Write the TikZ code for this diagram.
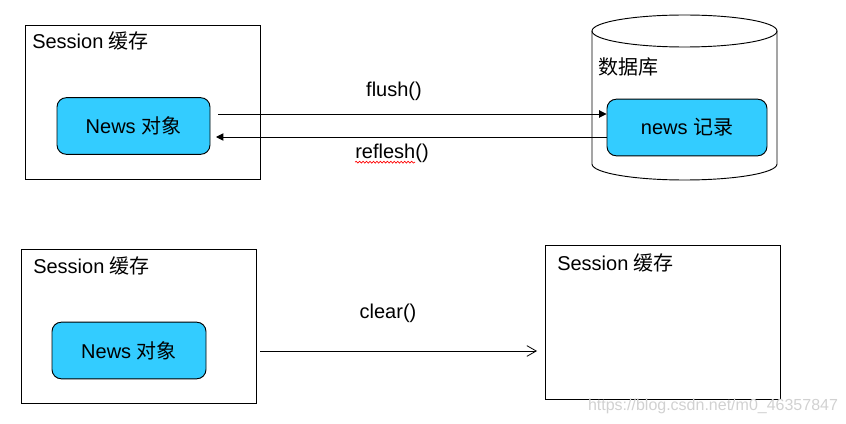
\documentclass[tikz,border=0pt]{standalone}
\usepackage{fontspec}
\setmainfont{Liberation Sans}
\newfontfamily\cjk{Noto Sans CJK SC}
\usepackage{tikz}
\usetikzlibrary{calc,arrows.meta,decorations.pathmorphing}
\definecolor{skyfill}{HTML}{33CCFF}

\begin{document}
\begin{tikzpicture}[x=0.75pt, y=-0.75pt,
  sessbox/.style = {draw, line width=0.7pt, minimum width=176.25pt, minimum height=115.5pt, inner sep=0pt},
  objbox/.style = {draw, line width=0.7pt, fill=skyfill, rounded corners=7pt, minimum height=42.5pt, inner sep=0pt, font=\fontsize{15}{18}\selectfont},
  lbl/.style = {inner sep=0pt, font=\fontsize{15}{18}\selectfont},
  flow/.style = {line width=0.7pt, -{Triangle[length=5.5pt,width=5.5pt]}},
  clearflow/.style = {line width=0.6pt, -{Straight Barb[length=7pt,width=8pt,line width=0.6pt]}},
  squiggle/.style = {red, line width=0.5pt, decorate, decoration={snake, amplitude=0.7pt, segment length=2.6pt}}]
  \useasboundingbox (0,0) rectangle (846,424);

  % top: session <-> database
  \node[sessbox] (sessA) at (142.5,102) {};
  \node[lbl, anchor=west] (sessAtxt) at (32,41) {Session {\cjk 缓存}};
  \node[objbox, minimum width=114.75pt] (newsA) at (133.5,126) {News {\cjk 对象}};

  \draw[line width=0.7pt] (684.5,31) ellipse [x radius=92.5, y radius=16];
  \draw[line width=0.7pt] (592,31) -- (592,164)
    arc[start angle=180, end angle=0, x radius=92.5, y radius=16] -- (777,31);
  \node[lbl, anchor=west] (dbtxt) at (598,67) {\cjk 数据库};
  \node[objbox, minimum width=120pt] (rec) at (687,127.5) {news {\cjk 记录}};

  \coordinate (fs) at (218,114);
  \coordinate (rs) at (216,137);
  \draw[flow] (fs) -- (fs -| rec.west);
  \draw[flow] (rs -| rec.west) -- (rs);
  \node[lbl] (flush) at (394,91) {flush()};
  \node[lbl] (refl) at (392,153) {reflesh()};
  \draw[squiggle] ($(refl.base west)+(0,4)$) -- ++(60,0);

  % bottom: clear
  \node[sessbox] (sessB) at (138.5,326) {};
  \node[lbl, anchor=west] (sessBtxt) at (33,266) {Session {\cjk 缓存}};
  \node[objbox, minimum width=115.5pt] (newsB) at (129,350.5) {News {\cjk 对象}};

  \node[sessbox] (sessC) at (662.5,322) {};
  \node[lbl, anchor=west] (sessCtxt) at (557,263) {Session {\cjk 缓存}};

  \coordinate (cs) at (260,351);
  \coordinate (ce) at (537,351);
  \draw[clearflow] (cs) -- (ce);
  \node[lbl] (clear) at (388,313) {clear()};

  \node[inner sep=0pt, text=black!18, font=\fontsize{12}{14}\selectfont] (mark) at (713,406) {https://blog.csdn.net/m0\_46357847};
\end{tikzpicture}
\end{document}
